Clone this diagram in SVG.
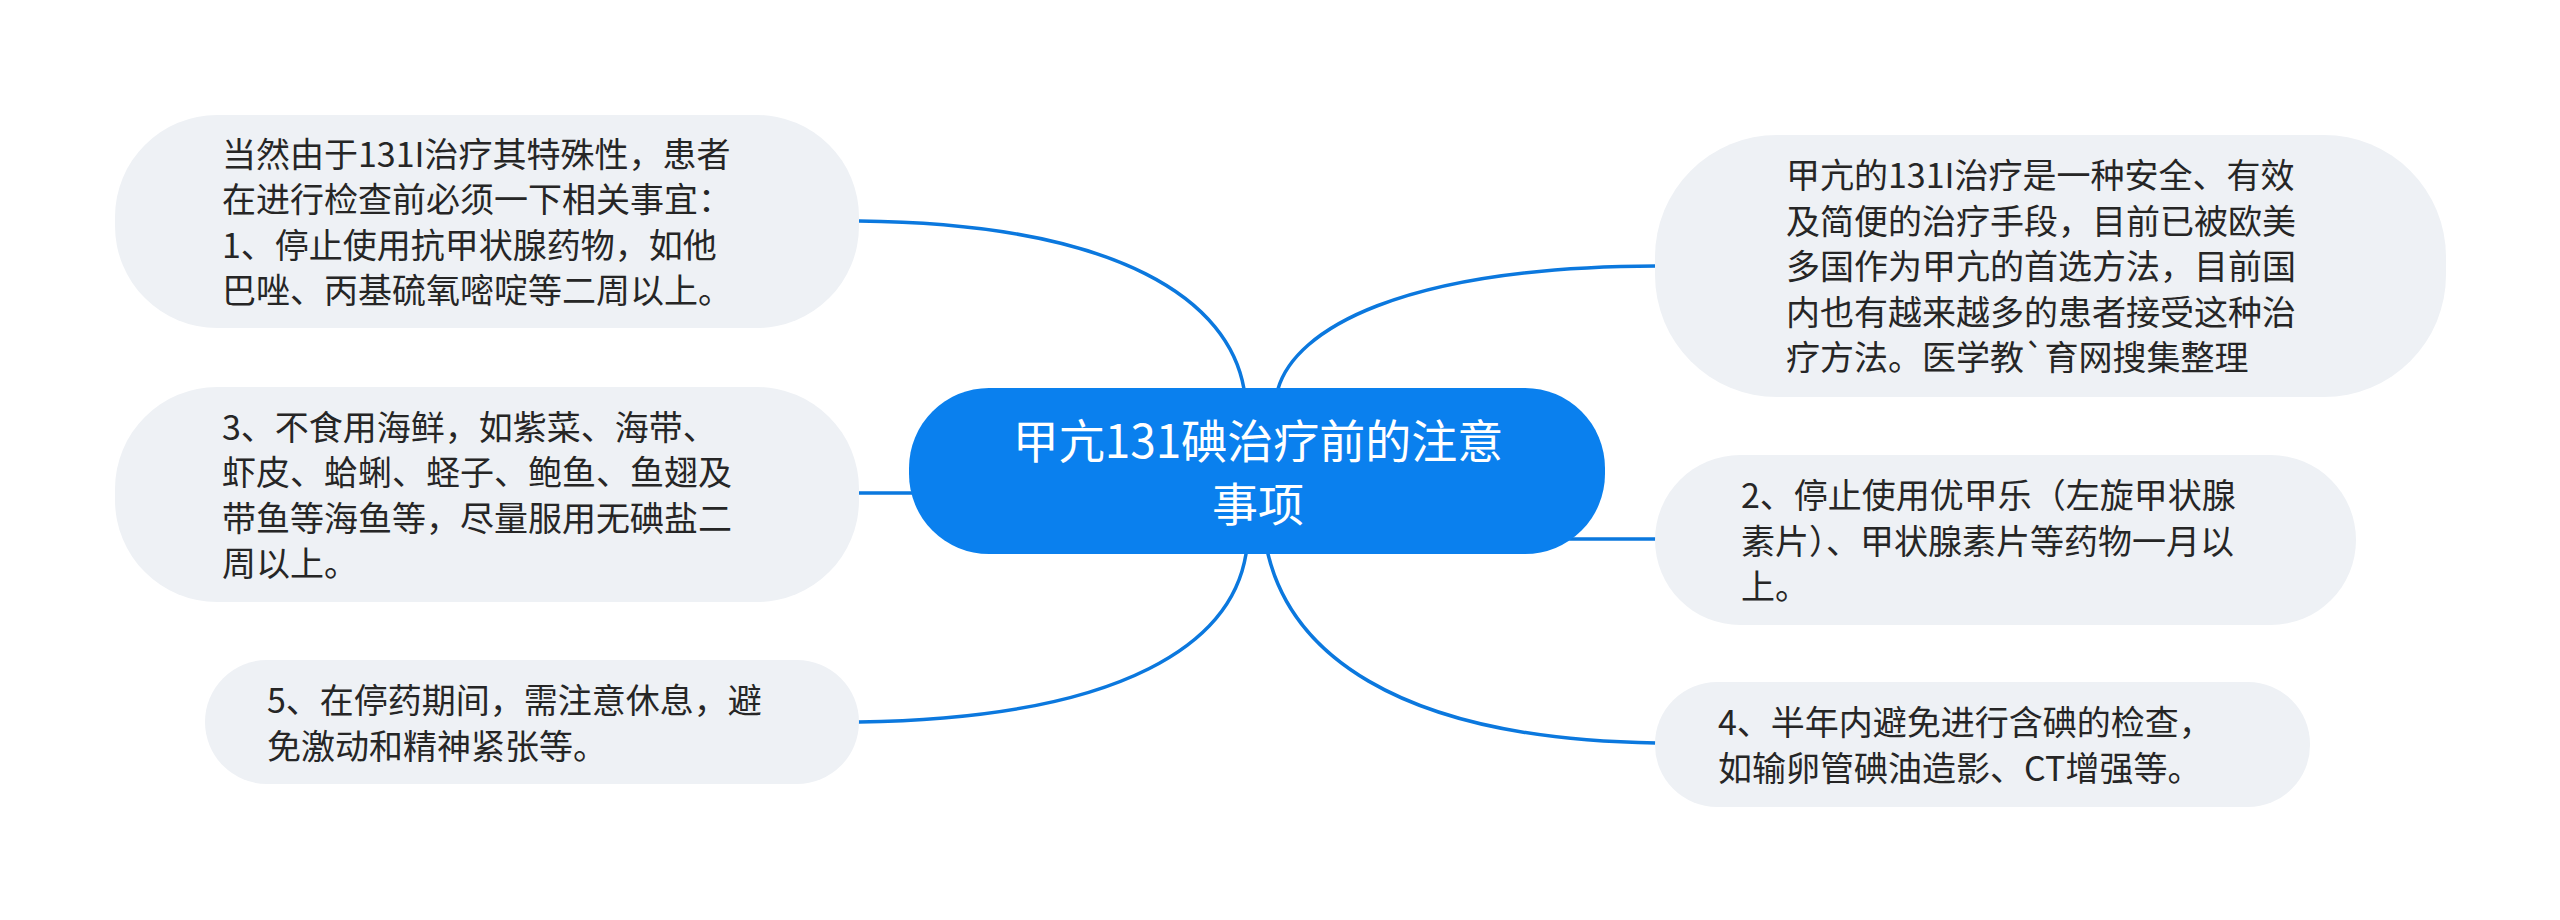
<svg xmlns="http://www.w3.org/2000/svg" width="2560" height="920" viewBox="0 0 2560 920">
  <style>
    .leaf rect { fill: #eef1f5; }
    .leaf text { font-family: "Noto Sans CJK SC", "Noto Sans", sans-serif; font-size: 34px; fill: #262626; }
    .root rect { fill: #0a80ee; }
    .root text { font-family: "Noto Sans CJK SC", "Noto Sans", sans-serif; font-size: 46px; fill: #ffffff; text-anchor: middle; }
    .conn path { fill: none; stroke: #0b78de; stroke-width: 3.5; stroke-linecap: round; }
  </style>
  <rect x="0" y="0" width="2560" height="920" fill="#ffffff"/>
  <g id="connectors" class="conn">
    <path d="M 859 221 C 1125 224, 1229 303, 1244 389"/>
    <path d="M 858 493 L 912 493"/>
    <path d="M 859 722 C 1130 718, 1232 640, 1246 554"/>
    <path d="M 1278 389 C 1295 330, 1400 267, 1656 266"/>
    <path d="M 1570 539 L 1655 539"/>
    <path d="M 1268 554 C 1290 645, 1385 739, 1656 743"/>
  </g>
  <g id="root" class="root">
    <rect x="909" y="388" width="696" height="166" rx="80" ry="80"/>
    <text x="1258" y="458">甲亢131碘治疗前的注意</text>
    <text x="1258" y="521">事项</text>
  </g>
  <g id="node-left-1" class="leaf">
    <rect x="115" y="115" width="744" height="213" rx="102" ry="102"/>
    <text x="222" y="166.5">当然由于131I治疗其特殊性，患者</text>
    <text x="222" y="212">在进行检查前必须一下相关事宜：</text>
    <text x="222" y="257.5">1、停止使用抗甲状腺药物，如他</text>
    <text x="222" y="303">巴唑、丙基硫氧嘧啶等二周以上。</text>
  </g>
  <g id="node-left-3" class="leaf">
    <rect x="115" y="387" width="744" height="215" rx="102" ry="102"/>
    <text x="222" y="439.5">3、不食用海鲜，如紫菜、海带、</text>
    <text x="222" y="485">虾皮、蛤蜊、蛏子、鲍鱼、鱼翅及</text>
    <text x="222" y="530.5">带鱼等海鱼等，尽量服用无碘盐二</text>
    <text x="222" y="576">周以上。</text>
  </g>
  <g id="node-left-5" class="leaf">
    <rect x="205" y="660" width="654" height="124" rx="62" ry="62"/>
    <text x="267" y="713">5、在停药期间，需注意休息，避</text>
    <text x="267" y="758.5">免激动和精神紧张等。</text>
  </g>
  <g id="node-right-1" class="leaf">
    <rect x="1655" y="135" width="791" height="262" rx="122" ry="122"/>
    <text x="1786" y="188">甲亢的131I治疗是一种安全、有效</text>
    <text x="1786" y="233.5">及简便的治疗手段，目前已被欧美</text>
    <text x="1786" y="279">多国作为甲亢的首选方法，目前国</text>
    <text x="1786" y="324.5">内也有越来越多的患者接受这种治</text>
    <text x="1786" y="370">疗方法。医学教`育网搜集整理</text>
  </g>
  <g id="node-right-2" class="leaf">
    <rect x="1655" y="455" width="701" height="170" rx="85" ry="85"/>
    <text x="1741" y="508">2、停止使用优甲乐（左旋甲状腺</text>
    <text x="1741" y="553.5">素片）、甲状腺素片等药物一月以</text>
    <text x="1741" y="599">上。</text>
  </g>
  <g id="node-right-4" class="leaf">
    <rect x="1655" y="682" width="655" height="125" rx="62" ry="62"/>
    <text x="1718" y="735">4、半年内避免进行含碘的检查，</text>
    <text x="1718" y="780.5">如输卵管碘油造影、CT增强等。</text>
  </g>
</svg>
